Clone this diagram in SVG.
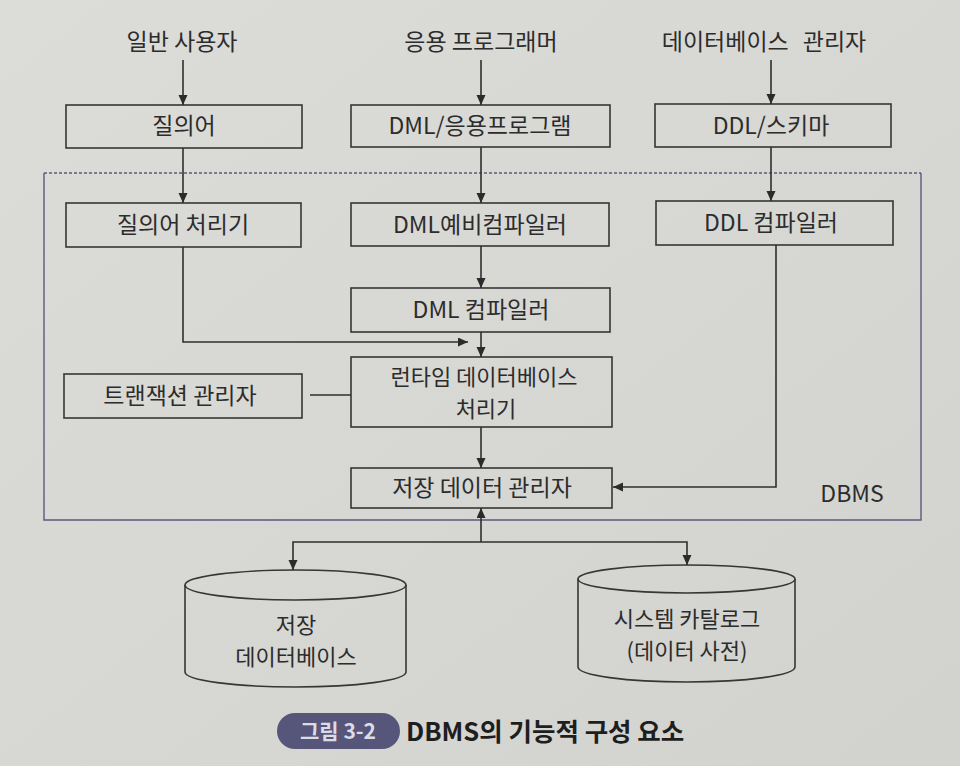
<svg xmlns="http://www.w3.org/2000/svg" width="960" height="766" viewBox="0 0 960 766">
  <defs>
    <linearGradient id="bg" x1="0" y1="0" x2="1" y2="1">
      <stop offset="0" stop-color="#dcdcd9"/>
      <stop offset="1" stop-color="#d2d2cf"/>
    </linearGradient>
    <marker id="arr" markerUnits="userSpaceOnUse" markerWidth="11" markerHeight="10" refX="10" refY="4.5" orient="auto">
      <path d="M0,0 L10,4.5 L0,9 z" fill="#2b2b2b"/>
    </marker>
    <style>
      .box { fill: none; stroke: #363636; stroke-width: 1.6; }
      .t { font-family: "Noto Sans CJK KR", "Noto Sans", sans-serif; font-size: 23px; fill: #2c2c2c; text-anchor: middle; }
      .t2 { font-size: 22px; }
      .c { fill: none; stroke: #2f2f2f; stroke-width: 1.6; }
      .a { marker-end: url(#arr); }
      .frame { fill: none; stroke: #5a5a7c; stroke-width: 1.4; }
    </style>
  </defs>
  <rect width="960" height="766" fill="url(#bg)"/>

  <!-- DBMS frame -->
  <g id="dbms">
    <line class="frame" x1="44" y1="173" x2="921" y2="173" stroke-dasharray="3 2"/>
    <path class="frame" d="M44,173 V520 H921 V173"/>
    <text class="t" x="852" y="502">DBMS</text>
  </g>

  <!-- Top actors -->
  <g id="user"><text class="t" x="182" y="50">일반 사용자</text></g>
  <g id="programmer"><text class="t" x="481" y="50">응용 프로그래머</text></g>
  <g id="dba"><text class="t" x="764" y="50">데이터베이스<tspan dx="14">관리자</tspan></text></g>

  <!-- Boxes -->
  <g id="query"><rect class="box" x="66" y="105" width="236" height="43"/><text class="t" x="184" y="134">질의어</text></g>
  <g id="dmlapp"><rect class="box" x="351" y="105" width="259" height="42"/><text class="t" x="480" y="134">DML/응용프로그램</text></g>
  <g id="ddlschema"><rect class="box" x="655" y="104" width="236" height="43"/><text class="t" x="771" y="134">DDL/스키마</text></g>

  <g id="queryproc"><rect class="box" x="66" y="203" width="235" height="44"/><text class="t" x="183" y="233">질의어 처리기</text></g>
  <g id="dmlpre"><rect class="box" x="351" y="203" width="258" height="43"/><text class="t" x="480" y="233">DML예비컴파일러</text></g>
  <g id="ddlcomp"><rect class="box" x="656" y="201" width="237" height="44"/><text class="t" x="771" y="231">DDL 컴파일러</text></g>

  <g id="dmlcomp"><rect class="box" x="351" y="288" width="259" height="44"/><text class="t" x="481" y="318">DML 컴파일러</text></g>
  <g id="runtime"><rect class="box" x="351" y="357" width="261" height="70"/><text class="t t2" x="484" y="385">런타임 데이터베이스</text><text class="t t2" x="486" y="417">처리기</text></g>
  <g id="txmgr"><rect class="box" x="64" y="374" width="238" height="44"/><text class="t" x="180" y="404">트랜잭션 관리자</text></g>
  <g id="storemgr"><rect class="box" x="351" y="468" width="261" height="40"/><text class="t" x="482" y="496">저장 데이터 관리자</text></g>

  <!-- Cylinders -->
  <g id="storedb">
    <path class="box" d="M185,585 V672 A110.5,15 0 0 0 406,672 V585"/>
    <ellipse class="box" cx="295.5" cy="585" rx="110.5" ry="15"/>
    <text class="t t2" x="296" y="633">저장</text>
    <text class="t t2" x="296" y="665">데이터베이스</text>
  </g>
  <g id="catalog">
    <path class="box" d="M578,579 V667 A108.5,15 0 0 0 795,667 V579"/>
    <ellipse class="box" cx="686.5" cy="579" rx="108.5" ry="14"/>
    <text class="t t2" x="687" y="627">시스템 카탈로그</text>
    <text class="t t2" x="687" y="659">(데이터 사전)</text>
  </g>

  <!-- Caption -->
  <g id="caption">
    <rect x="277" y="713" width="123" height="36" rx="18" fill="#56567a"/>
    <text x="338" y="739" text-anchor="middle" font-family="'Noto Sans CJK KR', sans-serif" font-size="21" font-weight="bold" fill="#dcdce6">그림 3-2</text>
    <text x="406" y="741" font-family="'Noto Sans CJK KR', sans-serif" font-size="25.5" font-weight="bold" fill="#1e1e1e">DBMS의 기능적 구성 요소</text>
  </g>

  <!-- Connectors -->
  <g id="connectors">
    <path class="c a" d="M183,60 V105"/>
    <path class="c a" d="M183,148 V203"/>
    <path class="c a" d="M183,247 V342 H468"/>
    <path class="c a" d="M481,60 V105"/>
    <path class="c a" d="M481,147 V203"/>
    <path class="c a" d="M481,246 V288"/>
    <path class="c a" d="M481,332 V357"/>
    <path class="c a" d="M481,427 V468"/>
    <path class="c" d="M310,395 H351"/>
    <path class="c a" d="M771,60 V104"/>
    <path class="c a" d="M771,147 V201"/>
    <path class="c a" d="M776,245 V487 H613"/>
    <path class="c a" d="M481,542 V508"/>
    <path class="c a" d="M481,542 H293 V570"/>
    <path class="c a" d="M481,542 H687 V565"/>
  </g>
</svg>
